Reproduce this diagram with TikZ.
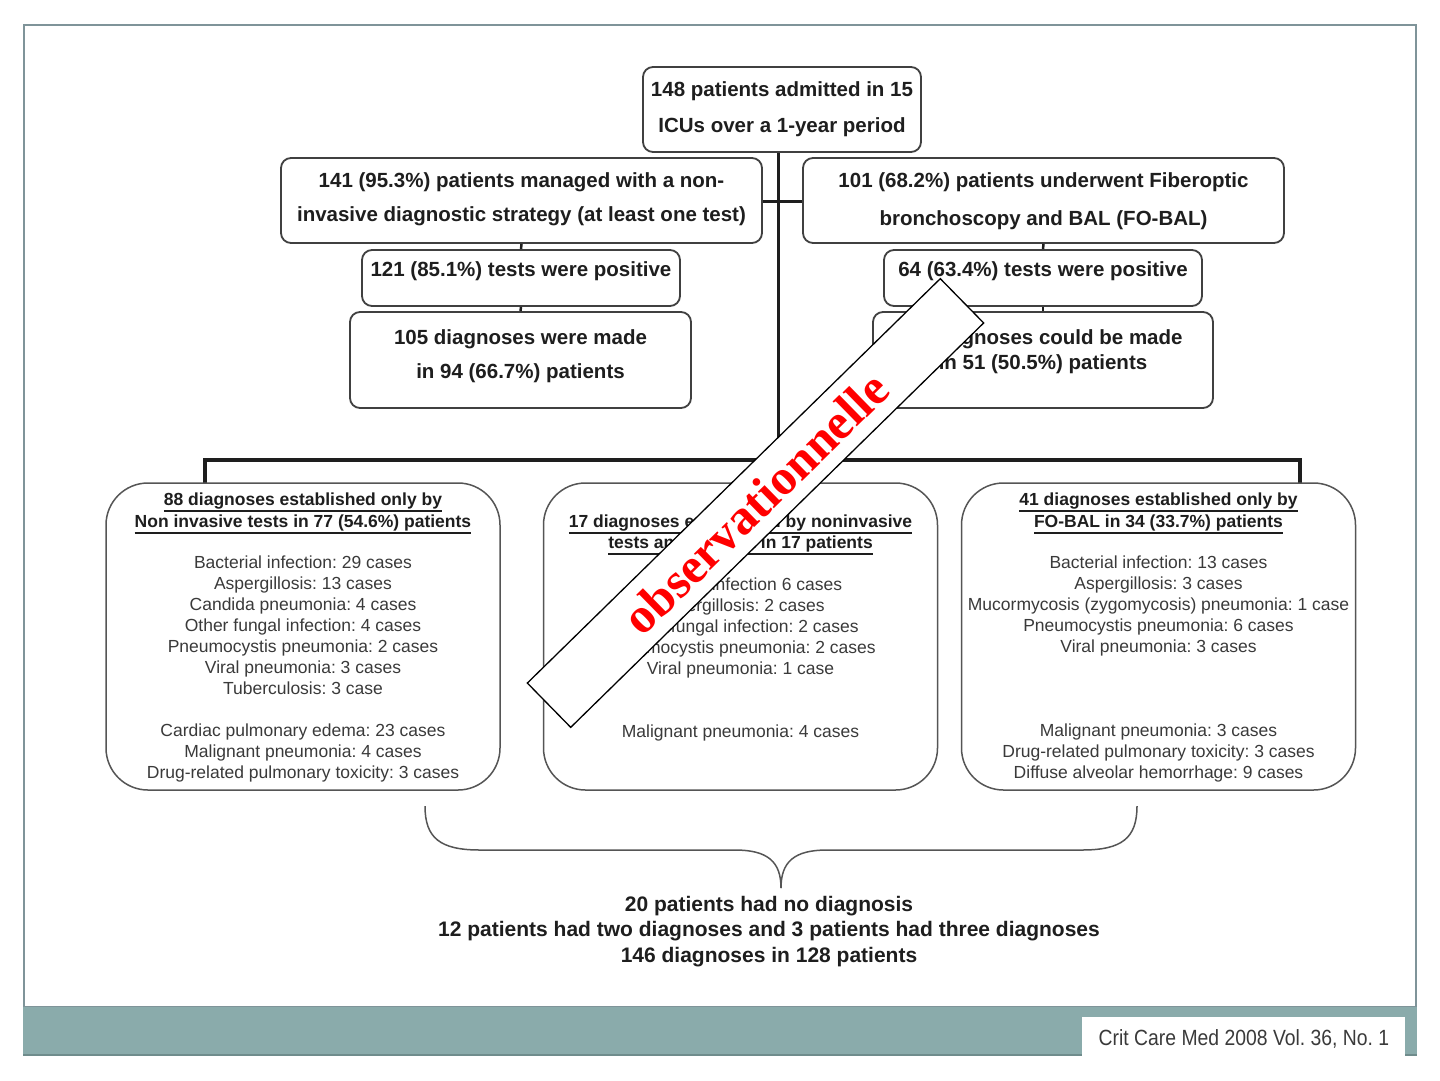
\documentclass[tikz,border=0pt]{standalone}
\usepackage{fontspec}
\setmainfont{Liberation Sans}
\newfontfamily\stampfont{Liberation Serif}
\newfontfamily\citefont[FakeStretch=0.88]{Liberation Sans}
\usetikzlibrary{positioning}
\frenchspacing

\newcommand{\undl}[1]{\setbox0=\hbox{#1}\rlap{\vrule height -4.3pt depth 5.8pt width \wd0}\box0}

\definecolor{framegray}{HTML}{7F9499}
\definecolor{bandteal}{HTML}{8AABAB}
\definecolor{bandedge}{HTML}{6F8C8C}
\definecolor{boxgray}{HTML}{404040}
\definecolor{diaggray}{HTML}{555555}
\definecolor{inkblack}{HTML}{1E1E1E}
\definecolor{listgray}{HTML}{3A3A3A}

\tikzset{
  hbox/.style={draw=boxgray, line width=1.8pt, rounded corners=10pt, fill=white},
  diagbox/.style={draw=diaggray, line width=1.5pt, rounded corners=42pt, fill=white,
    minimum width=394pt, minimum height=307pt},
  headtxt/.style={font=\bfseries\fontsize{20.5}{34}\selectfont, text=inkblack, align=center, inner sep=0pt},
  titletxt/.style={font=\bfseries\fontsize{17.5}{22}\selectfont, text=inkblack, align=center, anchor=north, inner sep=0pt},
  listtxt/.style={font=\fontsize{17.5}{21}\selectfont, text=listgray, align=center, anchor=north, inner sep=0pt},
  sumtxt/.style={font=\bfseries\fontsize{21}{25.5}\selectfont, text=inkblack, align=center, anchor=north, inner sep=0pt},
  link/.style={draw=inkblack, line width=3pt},
  tick/.style={draw=inkblack, line width=2.5pt},
  stamp/.style={draw=black, line width=1.3pt, fill=white, minimum width=578pt, minimum height=62pt,
    text=red, font=\stampfont\bfseries\fontsize{50}{50}\selectfont, inner sep=0pt}
}

\begin{document}
\begin{tikzpicture}[x=1pt,y=-1pt]
	\useasboundingbox (0,0) rectangle (1440,1080);
	\fill[white] (0,0) rectangle (1440,1080);

	% page frame and footer
	\draw[framegray, line width=2pt] (24,25) rectangle (1416,1007);
	\fill[bandteal] (23,1007) rectangle (1417,1055);
	\draw[bandedge, line width=1.5pt] (23,1055) -- (1417,1055);
	\fill[white] (1082,1017) rectangle (1405,1062);
	\node[font=\citefont\fontsize{22}{22}\selectfont, text=listgray] (cite) at (1244,1039) {Crit Care Med 2008 Vol. 36, No. 1};

	% connectors
	\coordinate (trunk) at (778,460);
	\coordinate (barL) at (205,460);
	\coordinate (barR) at (1300,460);
	\draw[link] (778,152) -- (trunk);
	\draw[link] (762,201) -- (803,201);
	\draw[link, line width=4pt] (205,485) -- (barL) -- (barR) -- (1300,485);

	% top part
	\node[hbox, minimum width=278pt, minimum height=85pt] (admit) at (782,109.5) {};
	\node[headtxt, font=\bfseries\fontsize{20.5}{36}\selectfont] (admit-t) at (782,109) {148 patients admitted in 15\\ICUs over a 1-year period};

	\node[hbox, minimum width=481pt, minimum height=85pt] (noninv) at (521.5,200.5) {};
	\node[headtxt] (noninv-t) at (noninv) [yshift=1pt] {141 (95.3\%) patients managed with a non-\\invasive diagnostic strategy (at least one test)};

	\node[hbox, minimum width=481pt, minimum height=85pt] (bronch) at (1043.5,200.5) {};
	\node[headtxt, font=\bfseries\fontsize{20.5}{38}\selectfont] (bronch-t) at (bronch) [yshift=-1pt] {101 (68.2\%) patients underwent Fiberoptic\\bronchoscopy and BAL (FO-BAL)};

	\node[hbox, minimum width=318pt, minimum height=56pt] (nipos) at (521,278) {};
	\node[headtxt] (nipos-t) at (521,271) {121 (85.1\%) tests were positive};

	\node[hbox, minimum width=318pt, minimum height=56pt] (fopos) at (1043,278) {};
	\node[headtxt] (fopos-t) at (1043,271) {64 (63.4\%) tests were positive};

	\node[hbox, minimum width=341pt, minimum height=96pt] (nires) at (520.5,360) {};
	\node[headtxt] (nires-t) at (520.5,356) {105 diagnoses were made\\in 94 (66.7\%) patients};

	\node[hbox, minimum width=340pt, minimum height=96pt] (fores) at (1043,360) {};
	\node[headtxt, font=\bfseries\fontsize{20.5}{25}\selectfont] (fores-t) at (1043,352) {58 diagnoses could be made\\in 51 (50.5\%) patients};

	\draw[tick] (noninv.south) -- (nipos.north);
	\draw[tick] (nipos.south) -- (nires.north);
	\draw[tick] (bronch.south) -- (fopos.north);
	\draw[tick] (fopos.south) -- (fores.north);

	% diagnosis boxes
	\node[diagbox] (nidiag) at (303,636.5) {};
	\node[titletxt] (nidiag-h) at (303,493) {\undl{88 diagnoses established only by}\\\undl{Non invasive tests in 77 (54.6\%) patients}};
	\node[listtxt] (nidiag-l) at (303,556) {Bacterial infection: 29 cases\\Aspergillosis: 13 cases\\Candida pneumonia: 4 cases\\Other fungal infection: 4 cases\\Pneumocystis pneumonia: 2 cases\\Viral pneumonia: 3 cases\\Tuberculosis: 3 case\\[21pt]Cardiac pulmonary edema: 23 cases\\Malignant pneumonia: 4 cases\\Drug-related pulmonary toxicity: 3 cases};

	\node[diagbox] (both) at (740.5,636.5) {};
	\node[titletxt, font=\bfseries\fontsize{17.5}{21}\selectfont] (both-h) at (740.5,515) {\undl{17 diagnoses established by noninvasive}\\\undl{tests and FO-BAL in 17 patients}};
	\node[listtxt] (both-l) at (740.5,578) {Bacterial infection 6 cases\\Aspergillosis: 2 cases\\Other fungal infection: 2 cases\\Pneumocystis pneumonia: 2 cases\\Viral pneumonia: 1 case\\[42pt]Malignant pneumonia: 4 cases};

	\node[diagbox] (fodiag) at (1158.5,636.5) {};
	\node[titletxt] (fodiag-h) at (1158.5,493) {\undl{41 diagnoses established only by}\\\undl{FO-BAL in 34 (33.7\%) patients}};
	\node[listtxt] (fodiag-l) at (1158.5,556) {Bacterial infection: 13 cases\\Aspergillosis: 3 cases\\Mucormycosis (zygomycosis) pneumonia: 1 case\\Pneumocystis pneumonia: 6 cases\\Viral pneumonia: 3 cases\\[63pt]Malignant pneumonia: 3 cases\\Drug-related pulmonary toxicity: 3 cases\\Diffuse alveolar hemorrhage: 9 cases};

	% brace and summary
	\coordinate (tip) at (781,888);
	\draw[diaggray, line width=1.5pt] (425,806) .. controls (425,838) and (440,850) .. (480,850) -- (735,850)
		.. controls (768,850) and (781,862) .. (tip);
	\draw[diaggray, line width=1.5pt] (1137,806) .. controls (1137,838) and (1122,850) .. (1082,850) -- (827,850)
		.. controls (794,850) and (781,862) .. (tip);
	\node[sumtxt] (summary) at (769,896) {20 patients had no diagnosis\\12 patients had two diagnoses and 3 patients had three diagnoses\\146 diagnoses in 128 patients};

	% stamp
	\node[stamp, rotate=44.4] (obs) at (755.5,503) {observationnelle};
\end{tikzpicture}
\end{document}
